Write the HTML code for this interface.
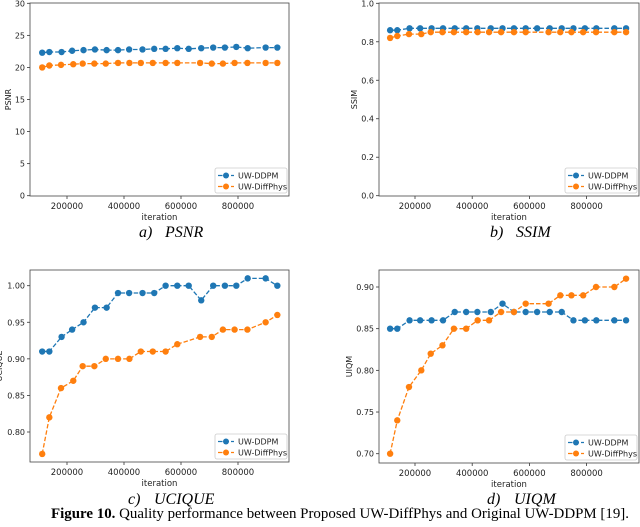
<!DOCTYPE html>
<html><head><meta charset="utf-8"><style>
body{margin:0;background:#fff;width:640px;height:522px;overflow:hidden}
svg text{font-family:"DejaVu Sans","Liberation Sans",sans-serif}
svg text.cap{font-family:"Liberation Serif",serif;font-style:italic;font-size:16px;fill:#000}
svg text.fc{font-family:"Liberation Serif",serif;font-size:15px;fill:#000}
</style></head><body>
<svg id="fig" width="640" height="522">
<text class="cap" x="139" y="237">a)<tspan x="165">PSNR</tspan></text>
<text class="cap" x="490" y="237">b)<tspan x="516">SSIM</tspan></text>
<text class="cap" x="128" y="504">c)<tspan x="154">UCIQUE</tspan></text>
<text class="cap" x="487" y="504">d)<tspan x="514">UIQM</tspan></text>
<text class="fc" x="51" y="518" textLength="578" lengthAdjust="spacingAndGlyphs"><tspan font-weight="bold">Figure 10.</tspan> Quality performance between Proposed UW-DiffPhys and Original UW-DDPM [19].</text>
</svg>
<script>
const iterBlue=[113000,138000,181000,218000,258000,298000,339000,379000,418000,465000,506000,546000,587000,627000,671000,713000,754000,794000,834000,897000,938000];
const iterOrange=[113000,138000,179000,222000,255000,296000,336000,379000,419000,459000,501000,546000,587000,667000,708000,747000,788000,833000,897000,938000];
const xTicks=[200000,400000,600000,800000];
const psnrBlue=[22.3,22.4,22.4,22.6,22.7,22.8,22.7,22.7,22.8,22.8,22.9,22.9,23.0,22.9,23.0,23.1,23.1,23.2,23.0,23.1,23.1];
const psnrOrange=[20.0,20.3,20.4,20.5,20.6,20.6,20.6,20.7,20.7,20.7,20.7,20.7,20.7,20.7,20.6,20.6,20.7,20.7,20.7,20.7];
const psnrTicks=[0,5,10,15,20,25,30];
const ssimBlue=[0.86,0.86,0.87,0.87,0.87,0.87,0.87,0.87,0.87,0.87,0.87,0.87,0.87,0.87,0.87,0.87,0.87,0.87,0.87,0.87,0.87];
const ssimOrange=[0.82,0.83,0.84,0.84,0.85,0.85,0.85,0.85,0.85,0.85,0.85,0.85,0.85,0.85,0.85,0.85,0.85,0.85,0.85,0.85];
const ssimTicks=[0.0,0.2,0.4,0.6,0.8,1.0];
const uciqueBlue=[0.91,0.91,0.93,0.94,0.95,0.97,0.97,0.99,0.99,0.99,0.99,1.00,1.00,1.00,0.98,1.00,1.00,1.00,1.01,1.01,1.00];
const uciqueOrange=[0.77,0.82,0.86,0.87,0.89,0.89,0.90,0.90,0.90,0.91,0.91,0.91,0.92,0.93,0.93,0.94,0.94,0.94,0.95,0.96];
const uciqueTicks=[0.80,0.85,0.90,0.95,1.00];
const uiqmBlue=[0.85,0.85,0.86,0.86,0.86,0.86,0.87,0.87,0.87,0.87,0.88,0.87,0.87,0.87,0.87,0.87,0.86,0.86,0.86,0.86,0.86];
const uiqmOrange=[0.70,0.74,0.78,0.80,0.82,0.83,0.85,0.85,0.86,0.86,0.87,0.87,0.88,0.88,0.89,0.89,0.89,0.90,0.90,0.91];
const uiqmTicks=[0.70,0.75,0.80,0.85,0.90];

const NS='http://www.w3.org/2000/svg';
const svg=document.getElementById('fig');
function mk(tag,attrs,parent){const e=document.createElementNS(NS,tag);for(const k in attrs)e.setAttribute(k,attrs[k]);(parent||svg).appendChild(e);return e;}

function panel(id,box,x0px,xPer200k,yA,yB,ticks,dec,ylabel,ylx,blue,orange){
  const g=mk('g',{});
  
  
  const xs=v=>x0px+v/200000*xPer200k;
  const ys=v=>yA.px+(v-yA.v)*(yB.px-yA.px)/(yB.v-yA.v);
  xTicks.forEach(t=>{
    const x=xs(t);
    mk('line',{x1:x,x2:x,y1:box.b,y2:box.b+3,stroke:'#333','stroke-width':0.8},g);
    const tx=mk('text',{x:x,y:box.b+13,'font-size':8.5,'text-anchor':'middle',fill:'#222'},g);
    tx.textContent=t;
    
    
  });
  ticks.forEach(t=>{
    const y=ys(t);
    mk('line',{x1:box.l-3,x2:box.l,y1:y,y2:y,stroke:'#333','stroke-width':0.8},g);
    const tx=mk('text',{x:box.l-5,y:y+3,'font-size':8,'text-anchor':'end',fill:'#222'},g);
    tx.textContent=t.toFixed(dec);
    
    
  });
  const xl=mk('text',{x:(box.l+box.r)/2,y:box.b+24,'font-size':8.5,'text-anchor':'middle',fill:'#222'},g);
  xl.textContent='iteration';
  
  
  const yc=(box.t+box.b)/2;
  const yl=mk('text',{x:ylx,y:yc,'font-size':8,'text-anchor':'middle',fill:'#222',transform:`rotate(-90 ${ylx} ${yc})`},g);
  yl.textContent=ylabel;
  
  
  [[iterBlue,blue,'#1f77b4','UW-DDPM'],[iterOrange,orange,'#ff7f0e','UW-DiffPhys']].forEach(([xa,va,c,n])=>{
    const pts=va.map((v,i)=>xs(xa[i]).toFixed(1)+','+ys(v).toFixed(1)).join(' ');
    const pl=mk('polyline',{points:pts,fill:'none',stroke:c,'stroke-width':1.3,'stroke-dasharray':'4.5,2'},g);
    
    
    va.forEach((v,i)=>{
      const p=mk('circle',{cx:xs(xa[i]),cy:ys(v),r:3.2,fill:c},g);
      
      
    });
  });
  const fr=mk('rect',{x:box.l,y:box.t,width:box.r-box.l,height:box.b-box.t,fill:'none',stroke:'#444','stroke-width':0.8},g);
  
  
  const lx=box.r-74,ly=box.b-28;
  const lg=mk('g',{},g);
  
  
  mk('rect',{x:lx,y:ly,width:72,height:25,fill:'#fff',stroke:'#ccc','stroke-width':0.8,rx:2},lg);
  [['#1f77b4','UW-DDPM'],['#ff7f0e','UW-DiffPhys']].forEach(([c,n],i)=>{
    const yy=ly+7.5+i*11;
    mk('line',{x1:lx+3,x2:lx+19,y1:yy,y2:yy,stroke:c,'stroke-width':1.3,'stroke-dasharray':'4.5,2'},lg);
    mk('circle',{cx:lx+11,cy:yy,r:3,fill:c},lg);
    const t=mk('text',{x:lx+23,y:yy+3,'font-size':8,fill:'#222'},lg);
    t.textContent=n;
    
    
  });
}
panel('psnr',{l:30,r:289,t:3,b:196},10,57,{v:30,px:3.3},{v:0,px:195.7},psnrTicks,0,'PSNR',11,psnrBlue,psnrOrange);
panel('ssim',{l:379,r:639,t:3,b:196},357.8,57.2,{v:1,px:3.3},{v:0,px:195.7},ssimTicks,1,'SSIM',357,ssimBlue,ssimOrange);
panel('ucique',{l:30,r:289,t:270,b:462},10,57,{v:1.0,px:285.7},{v:0.8,px:432},uciqueTicks,2,'UCIQUE',2,uciqueBlue,uciqueOrange);
panel('uiqm',{l:379,r:639,t:270,b:463},357.8,57.2,{v:0.9,px:287},{v:0.7,px:453.7},uiqmTicks,2,'UIQM',352,uiqmBlue,uiqmOrange);
</script>
</body></html>
